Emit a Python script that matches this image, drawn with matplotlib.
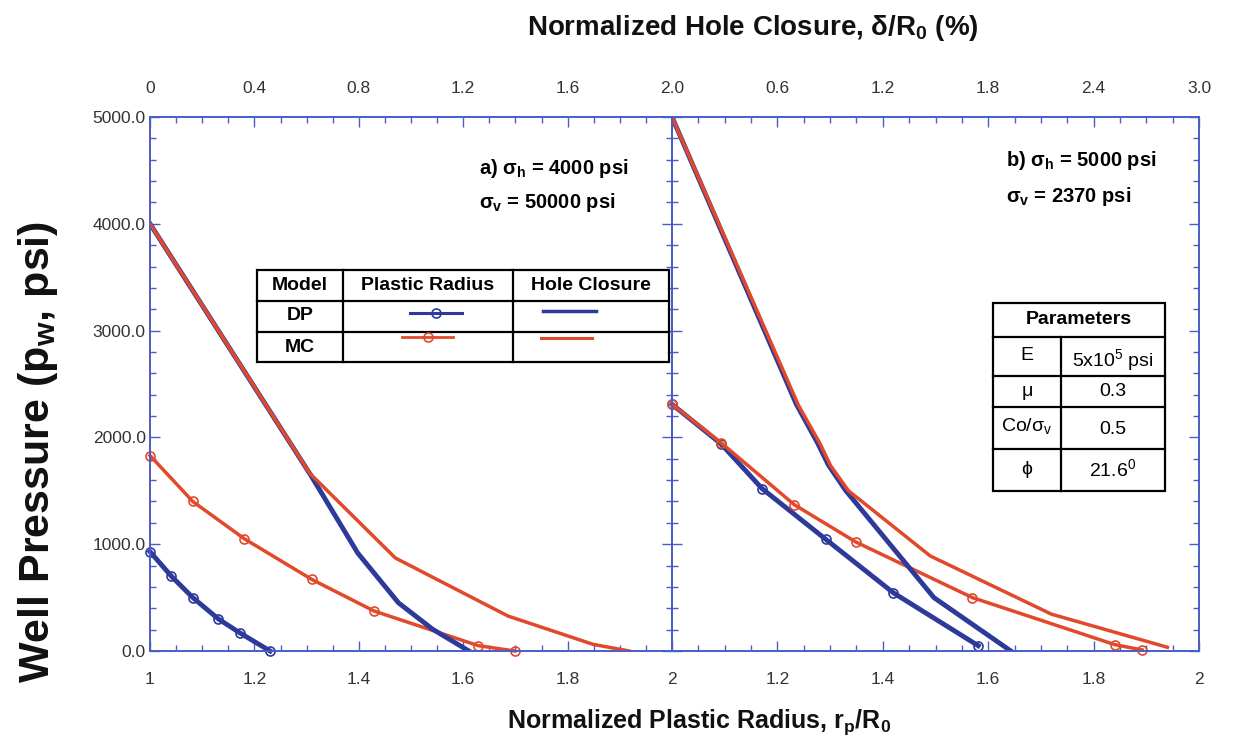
import numpy as np
import matplotlib
matplotlib.use('Agg')
import matplotlib.pyplot as plt
from matplotlib.ticker import MultipleLocator
from matplotlib.lines import Line2D
from matplotlib.patches import Rectangle
from matplotlib import font_manager

# ---- data ----
# a) sigma_h = 4000 psi, sigma_v = 50000 psi
a_dp_r = [1.0, 1.041, 1.082, 1.131, 1.172, 1.230]          # plastic radius rp/R0
a_dp_r_p = [930, 700, 500, 300, 170, 0]
a_mc_r = [1.0, 1.082, 1.181, 1.310, 1.429, 1.629, 1.699]
a_mc_r_p = [1830, 1400, 1050, 670, 375, 50, 0]
a_dp_c = [0, 0.615, 0.796, 0.952, 1.084, 1.222]             # hole closure (%)
a_dp_c_p = [4000, 1650, 917, 451, 202, 0]
a_mc_c = [0, 0.612, 0.94, 1.372, 1.698, 1.836]
a_mc_c_p = [4000, 1664, 871, 327, 62, 0]

# b) sigma_h = 5000 psi, sigma_v = 2370 psi
b_dp_r = [1.0, 1.093, 1.171, 1.292, 1.420, 1.581]
b_dp_r_p = [2310, 1940, 1520, 1045, 545, 50]
b_mc_r = [1.0, 1.093, 1.232, 1.349, 1.570, 1.840, 1.892]
b_mc_r_p = [2310, 1950, 1370, 1020, 500, 60, 10]
b_dp_c = [0, 0.708, 0.828, 0.891, 0.99, 1.491, 1.929]
b_dp_c_p = [5000, 2310, 1950, 1740, 1500, 500, 0]
b_mc_c = [0, 0.72, 0.84, 0.903, 1.005, 1.47, 2.16, 2.82]
b_mc_c_p = [5000, 2300, 1950, 1735, 1500, 890, 345, 35]

bot_ticks = [1.0, 1.2, 1.4, 1.6, 1.8, 2.0]
a_bot_labels = ['1', '1.2', '1.4', '1.6', '1.8', '2']
b_bot_labels = ['', '1.2', '1.4', '1.6', '1.8', '2']
a_top_ticks = [0, 0.4, 0.8, 1.2, 1.6, 2.0]
a_top_labels = ['0', '0.4', '0.8', '1.2', '1.6', '']
b_top_ticks = [0, 0.6, 1.2, 1.8, 2.4, 3.0]
b_top_labels = ['2.0', '0.6', '1.2', '1.8', '2.4', '3.0']

BLUE = '#2d3a9a'
RED = '#e2492a'
AX = '#4a5cc8'
TXT = '#333333'

plt.rcParams['font.family'] = ['Liberation Sans', 'DejaVu Sans']
plt.rcParams['mathtext.default'] = 'regular'

names = {f.name for f in font_manager.fontManager.ttflist}
narrow = 'Liberation Sans Narrow' if 'Liberation Sans Narrow' in names else 'Liberation Sans'

W, H = 1235, 754
fig = plt.figure(figsize=(W / 100, H / 100), dpi=100)


def box(x0, y0, x1, y1):
    return [x0 / W, 1 - y1 / H, (x1 - x0) / W, (y1 - y0) / H]


def fx(x):
    return x / W


def fy(y):
    return 1 - y / H


axa = fig.add_axes(box(150, 117, 672, 651))
axb = fig.add_axes(box(672, 117, 1199, 651))


def style(ax, labels):
    ax.set_xlim(1, 2)
    ax.set_ylim(0, 5000)
    ax.set_xticks(bot_ticks, labels)
    ax.xaxis.set_minor_locator(MultipleLocator(0.05))
    ax.yaxis.set_major_locator(MultipleLocator(1000))
    ax.yaxis.set_minor_locator(MultipleLocator(200))
    ax.tick_params(which='both', direction='in', color=AX, left=True, right=True,
                   bottom=True, top=False, labelcolor=TXT, labelsize=12.5)
    ax.tick_params(which='major', length=7, width=1)
    ax.tick_params(which='minor', length=4.5, width=1)
    ax.tick_params(axis='x', pad=15)
    ax.tick_params(axis='y', pad=3)
    for s in ax.spines.values():
        s.set_color(AX)
        s.set_linewidth(1.2)


def style_top(t, lim, ticks, labels, minor):
    t.set_xlim(0, lim)
    t.set_xticks(ticks, labels)
    t.xaxis.set_minor_locator(MultipleLocator(minor))
    t.tick_params(axis='x', which='both', direction='in', color=AX, top=True, bottom=False,
                  labelcolor=TXT, labelsize=12.5, pad=15)
    t.tick_params(axis='x', which='major', length=7, width=1)
    t.tick_params(axis='x', which='minor', length=4.5, width=1)
    for s in t.spines.values():
        s.set_color(AX)
        s.set_linewidth(1.2)


style(axa, a_bot_labels)
style(axb, b_bot_labels)
axa.yaxis.set_major_formatter(lambda v, pos: '%.1f' % v)
axb.tick_params(axis='y', labelleft=False)

ta = axa.twiny()
tb = axb.twiny()
style_top(ta, 2.0, a_top_ticks, a_top_labels, 0.1)
style_top(tb, 3.0, b_top_ticks, b_top_labels, 0.15)

mk = dict(marker='o', ms=6.5, mfc='none', mew=1.2, clip_on=False)

# plastic radius (bottom axis)
axa.plot(a_dp_r, a_dp_r_p, color=BLUE, lw=3.5, mec=BLUE, **mk)
axa.plot(a_mc_r, a_mc_r_p, color=RED, lw=2.5, mec=RED, **mk)
axb.plot(b_dp_r, b_dp_r_p, color=BLUE, lw=3.5, mec=BLUE, **mk)
axb.plot(b_mc_r, b_mc_r_p, color=RED, lw=2.5, mec=RED, **mk)

# hole closure (top axis)
ta.plot(a_dp_c, a_dp_c_p, color=BLUE, lw=3.5)
ta.plot(a_mc_c, a_mc_c_p, color=RED, lw=2.5)
tb.plot(b_dp_c, b_dp_c_p, color=BLUE, lw=3.5)
tb.plot(b_mc_c, b_mc_c_p, color=RED, lw=2.5)

# axis titles
fig.text(fx(38), fy(452), 'Well Pressure (p$_w$, psi)', rotation=90, ha='center', va='center',
         fontsize=31, fontweight='bold', color='#111111')
fig.text(fx(699), fy(722), 'Normalized Plastic Radius, r$_p$/R$_0$', ha='center', va='center',
         fontsize=18, fontweight='bold', color='#111111')
fig.text(fx(753), fy(28), 'Normalized Hole Closure, δ/R$_0$ (%)', ha='center', va='center',
         fontsize=20, fontweight='bold', family=narrow, color='#111111')

# case annotations
fig.text(fx(479), fy(168), 'a) σ$_h$ = 4000 psi', ha='left', va='center', fontsize=14.5, fontweight='bold')
fig.text(fx(479), fy(203), 'σ$_v$ = 50000 psi', ha='left', va='center', fontsize=14.5, fontweight='bold')
fig.text(fx(1006), fy(160), 'b) σ$_h$ = 5000 psi', ha='left', va='center', fontsize=14.5, fontweight='bold')
fig.text(fx(1006), fy(196), 'σ$_v$ = 2370 psi', ha='left', va='center', fontsize=14.5, fontweight='bold')


def frame(x0, y0, x1, y1):
    fig.add_artist(Rectangle((fx(x0), fy(y1)), fx(x1) - fx(x0), fy(y0) - fy(y1), transform=fig.transFigure,
                             facecolor='white', edgecolor='black', lw=1.6, zorder=5))


def hline(x0, x1, y, **kw):
    fig.add_artist(Line2D([fx(x0), fx(x1)], [fy(y), fy(y)], transform=fig.transFigure, zorder=6, **kw))


def vline(x, y0, y1):
    fig.add_artist(Line2D([fx(x), fx(x)], [fy(y0), fy(y1)], transform=fig.transFigure, color='black',
                          lw=1.6, zorder=6))


def cell(x, y, s, **kw):
    fig.text(fx(x), fy(y), s, ha='center', va='center', fontsize=14, zorder=7, **kw)


# legend table
frame(257, 270, 669, 362)
hline(257, 669, 301, color='black', lw=1.6)
hline(257, 669, 332, color='black', lw=1.6)
vline(343, 270, 362)
vline(513, 270, 362)
cell(300, 286, 'Model', fontweight='bold')
cell(428, 286, 'Plastic Radius', fontweight='bold')
cell(591, 286, 'Hole Closure', fontweight='bold')
cell(300, 316, 'DP', fontweight='bold')
cell(300, 347, 'MC', fontweight='bold')
hline(410, 462, 313, color=BLUE, lw=2.2)
hline(402, 453, 337, color=RED, lw=2.0)
fig.add_artist(Line2D([fx(436)], [fy(313)], transform=fig.transFigure, marker='o', ms=6.5, mfc='none',
                      mec=BLUE, mew=1.2, zorder=7))
fig.add_artist(Line2D([fx(428)], [fy(337)], transform=fig.transFigure, marker='o', ms=6.5, mfc='none',
                      mec=RED, mew=1.2, zorder=7))
hline(543, 596, 311, color=BLUE, lw=2.5)
hline(541, 592, 338, color=RED, lw=2.2)

# parameters table
frame(993, 303, 1165, 491)
hline(993, 1165, 337, color='black', lw=1.6)
hline(993, 1165, 376, color='black', lw=1.6)
hline(993, 1165, 407, color='black', lw=1.6)
hline(993, 1165, 449, color='black', lw=1.6)
vline(1061, 337, 491)
cell(1079, 320, 'Parameters', fontweight='bold')
cell(1027, 356, 'E')
cell(1113, 360, '5x10$^5$ psi')
cell(1027, 391, 'μ')
cell(1113, 392, '0.3')
cell(1027, 426, 'Co/σ$_v$')
cell(1113, 429, '0.5')
cell(1027, 470, 'ϕ')
cell(1113, 469, '21.6$^0$')

fig.savefig('out.png', dpi=100)
